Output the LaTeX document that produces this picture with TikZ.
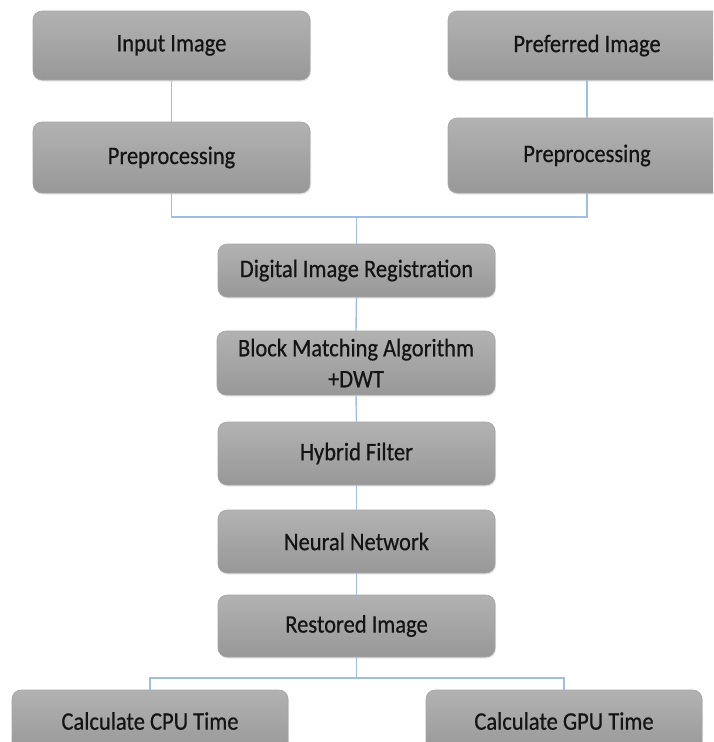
\documentclass[tikz,border=0pt]{standalone}
\usepackage{fontspec}
\setmainfont{Carlito}[FakeBold=0.6]
\usepackage{graphicx}
\usetikzlibrary{shadows}
\newcommand{\vs}[1]{\raisebox{-2pt}{\scalebox{1}[1.12]{#1}}}
\definecolor{boxtop}{RGB}{178,178,178}
\definecolor{boxbot}{RGB}{152,152,152}
\definecolor{boxedge}{RGB}{165,165,165}
\definecolor{connc}{RGB}{160,190,225}
\definecolor{txt}{RGB}{20,20,20}
\tikzset{
  box/.style={rectangle, rounded corners=9pt, top color=boxtop, bottom color=boxbot,
    draw=boxedge, line width=0.6pt, text=txt, align=center, inner sep=2pt, outer sep=0pt,
    font=\fontsize{22.5}{26}\selectfont,
    drop shadow={opacity=0.18, shadow xshift=1pt, shadow yshift=-1.5pt}},
  conn/.style={draw=connc, line width=1.4pt}
}
\begin{document}
\begin{tikzpicture}[x=1pt,y=-1pt]
\useasboundingbox (0,0) rectangle (713,742);
\clip (0,0) rectangle (713,742);
\fill[white] (0,0) rectangle (713,742);
% top row
\node[box, minimum width=277pt, minimum height=69pt] (in1) at (171.5,45.5) {\vs{Input Image}};
\node[box, minimum width=277pt, minimum height=71pt] (pre1) at (171.5,157.5) {\vs{Preprocessing}};
\node[box, minimum width=278pt, minimum height=69pt] (in2) at (587,45.5) {\vs{Preferred Image}};
\node[box, minimum width=278pt, minimum height=75pt] (pre2) at (587,155.5) {\vs{Preprocessing}};
% middle column
\node[box, minimum width=277pt, minimum height=53pt] (dir) at (356.5,270.5) {\vs{Digital Image Registration}};
\node[box, minimum width=278pt, minimum height=64pt] (bma) at (356,363) {\vs{Block Matching Algorithm}\\[5pt]\vs{+DWT}};
\node[box, minimum width=277pt, minimum height=63pt] (hf) at (356.5,453.5) {\vs{Hybrid Filter}};
\node[box, minimum width=277pt, minimum height=63pt] (nn) at (356.5,541.5) {\vs{Neural Network}};
\node[box, minimum width=277pt, minimum height=62pt] (ri) at (356.5,626) {\vs{Restored Image}};
% bottom row
\node[box, minimum width=276pt, minimum height=62pt] (cpu) at (150,721) {\vs{Calculate CPU Time}};
\node[box, minimum width=276pt, minimum height=62pt] (gpu) at (564,721) {\vs{Calculate GPU Time}};
% junctions
\coordinate (jt) at (356.5,217);
\coordinate (jb) at (356.5,678);
% connectors
\draw[conn] (in1.south) -- (pre1.north);
\draw[conn] (in2.south) -- (pre2.north);
\draw[conn] (pre1.south) -- (pre1.south |- jt) -- (pre2.south |- jt) -- (pre2.south);
\draw[conn] (jt) -- (dir.north);
\draw[conn] (dir.south) -- (bma.north);
\draw[conn] (bma.south) -- (hf.north);
\draw[conn] (hf.south) -- (nn.north);
\draw[conn] (nn.south) -- (ri.north);
\draw[conn] (ri.south) -- (jb);
\draw[conn] (cpu.north) -- (cpu.north |- jb) -- (gpu.north |- jb) -- (gpu.north);
\end{tikzpicture}
\end{document}
